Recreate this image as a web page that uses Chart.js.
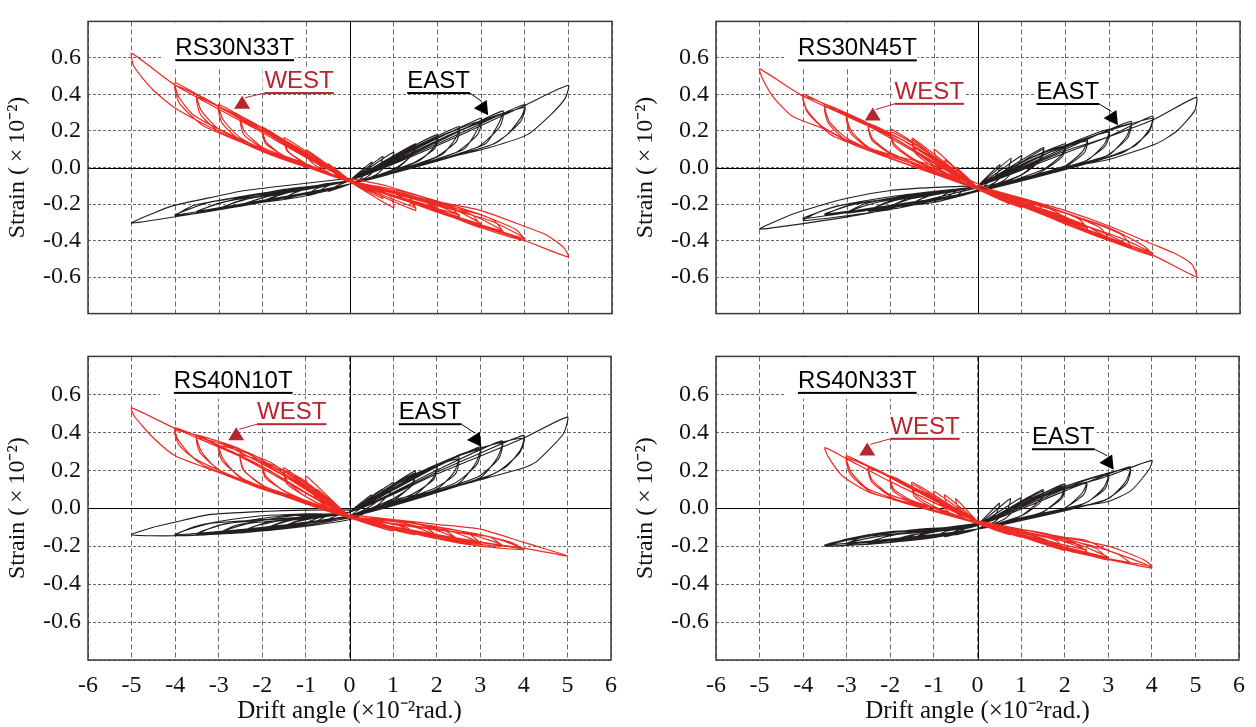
<!DOCTYPE html>
<html>
<head>
<meta charset="utf-8">
<script src="https://cdn.jsdelivr.net/npm/chart.js@4.4.1/dist/chart.umd.min.js"></script>
<style>
  body { margin: 0; background: #fff; width: 1256px; height: 727px; position: relative; overflow: hidden; }
  canvas { position: absolute; }
</style>
</head>
<body>
<canvas id="c1" width="628" height="335" style="left:0;top:0"></canvas>
<canvas id="c2" width="628" height="335" style="left:628px;top:0"></canvas>
<canvas id="c3" width="628" height="392" style="left:0;top:335px"></canvas>
<canvas id="c4" width="628" height="392" style="left:628px;top:335px"></canvas>
<script>
// tick positions
const driftTicks = [-6, -5, -4, -3, -2, -1, 0, 1, 2, 3, 4, 5, 6];
const strainTicks = [-0.8, -0.6, -0.4, -0.2, 0, 0.2, 0.4, 0.6, 0.8];

// [drift angle, strain], one continuous path per gauge
const rs30n33tEast = [
  [0,-0.07],[0.5,0.03],[0.45,0.0],[0.25,-0.06],[0,-0.09],[-0.5,-0.13],[-0.3,-0.1],[0,-0.07],
  [0.75,0.06],[0.7,0.02],[0.4,-0.05],[0,-0.09],[-0.75,-0.14],[-0.5,-0.1],[0,-0.07],
  [1.0,0.085],[0.93,0.04],[0.6,-0.04],[0,-0.09],[-1,-0.15],[-0.7,-0.11],[0,-0.07],
  [1.5,0.13],[1.42,0.07],[1.1,0.0],[0.5,-0.06],[0,-0.09],[-1.5,-0.17],[-1.2,-0.13],[-0.6,-0.09],[0,-0.07],
  [1.0,0.05],[1.5,0.12],[1.44,0.07],[1.0,-0.01],[0,-0.09],[-1.5,-0.165],[-1.1,-0.125],[0,-0.07],
  [1.0,0.06],[2.0,0.18],[1.92,0.11],[1.6,0.04],[0.8,-0.04],[0,-0.09],[-1.0,-0.155],[-2,-0.19],[-1.6,-0.15],[-0.8,-0.1],[0,-0.07],
  [1.2,0.08],[2.0,0.165],[1.93,0.1],[1.4,0.02],[0,-0.09],[-2,-0.185],[-1.5,-0.14],[0,-0.07],
  [1.2,0.08],[2.5,0.225],[2.42,0.16],[2.1,0.07],[1.0,-0.03],[0,-0.09],[-2.5,-0.21],[-2.0,-0.165],[-1.0,-0.11],[0,-0.07],
  [1.5,0.11],[2.5,0.21],[2.43,0.14],[1.9,0.05],[0,-0.09],[-2.5,-0.205],[-1.9,-0.16],[0,-0.07],
  [1.5,0.1],[3.0,0.27],[2.9,0.2],[2.6,0.1],[1.5,0.01],[0,-0.09],[-3,-0.23],[-2.5,-0.18],[-1.2,-0.115],[0,-0.07],
  [1.8,0.14],[3.0,0.255],[2.92,0.18],[2.4,0.08],[0,-0.09],[-3,-0.225],[-2.3,-0.17],[0,-0.07],
  [2.0,0.14],[3.5,0.31],[3.4,0.24],[3.1,0.13],[2,0.04],[0,-0.09],[-3.5,-0.245],[-3,-0.195],[-1.5,-0.12],[0,-0.07],
  [2.2,0.17],[3.5,0.295],[3.42,0.22],[2.9,0.11],[0,-0.09],[-3.5,-0.24],[-2.8,-0.185],[0,-0.07],
  [2,0.13],[3,0.24],[4.0,0.345],[3.93,0.28],[3.6,0.18],[3.2,0.12],[2,0.04],[1,-0.03],[0,-0.09],[-2,-0.19],[-4,-0.265],[-3.6,-0.21],[-3,-0.18],[-2,-0.14],[-1,-0.11],[0,-0.07],
  [2.5,0.2],[4.0,0.33],[3.9,0.25],[3.3,0.13],[0,-0.09],[-4,-0.26],[-3.2,-0.19],[0,-0.07],
  [2,0.12],[4,0.34],[5.0,0.45],[4.93,0.38],[4.6,0.29],[4.06,0.18],[3.2,0.11],[2,0.04],[1,-0.03],[0,-0.09],[-2.5,-0.21],[-5,-0.305],[-4.5,-0.25],[-4.06,-0.21],[-3.2,-0.165],[-2.5,-0.13],[-1.5,-0.1],[-0.6,-0.075],[0,-0.06]
];
const rs30n33tWest = [
  [0,-0.07],[-0.5,0.02],[-0.45,-0.01],[-0.25,-0.05],[0,-0.08],[0.5,-0.13],[0.4,-0.1],[0,-0.07],
  [-0.75,0.05],[-0.7,0.01],[-0.4,-0.04],[0,-0.08],[0.75,-0.17],[0.6,-0.12],[0,-0.07],
  [-1,0.095],[-0.93,0.04],[-0.6,-0.02],[0,-0.08],[1,-0.22],[0.9,-0.15],[0.5,-0.11],[0,-0.07],
  [-1.5,0.163],[-1.42,0.09],[-1.0,0.02],[-0.5,-0.03],[0,-0.08],[1.5,-0.235],[1.38,-0.17],[0.8,-0.12],[0,-0.07],
  [-1.0,0.07],[-1.5,0.15],[-1.44,0.09],[-1.0,0.02],[0,-0.08],[1.5,-0.22],[1.1,-0.15],[0,-0.07],
  [-1,0.07],[-2,0.22],[-1.92,0.14],[-1.5,0.06],[-0.8,0.0],[0,-0.08],[1,-0.16],[2,-0.23],[1.85,-0.19],[1.2,-0.14],[0,-0.07],
  [-1.2,0.11],[-2,0.205],[-1.93,0.13],[-1.4,0.05],[0,-0.08],[2,-0.22],[1.5,-0.17],[0,-0.07],
  [-1.2,0.1],[-2.5,0.28],[-2.42,0.2],[-2,0.11],[-1,0.02],[0,-0.08],[1.2,-0.17],[2.5,-0.27],[2.3,-0.22],[1.5,-0.16],[0,-0.07],
  [-1.5,0.15],[-2.5,0.265],[-2.43,0.18],[-1.9,0.09],[0,-0.08],[2.5,-0.26],[1.9,-0.2],[0,-0.07],
  [-1.5,0.14],[-3,0.345],[-2.9,0.26],[-2.5,0.16],[-1.5,0.05],[0,-0.08],[1.5,-0.19],[3,-0.33],[2.8,-0.26],[2,-0.19],[0,-0.07],
  [-1.8,0.19],[-3,0.33],[-2.92,0.24],[-2.4,0.13],[0,-0.08],[3,-0.31],[2.3,-0.22],[0,-0.07],
  [-2,0.19],[-3.5,0.40],[-3.4,0.31],[-3,0.21],[-2,0.09],[-1,0.01],[0,-0.08],[2,-0.23],[3.5,-0.36],[3.3,-0.29],[2.5,-0.22],[1,-0.12],[0,-0.07],
  [-2.2,0.23],[-3.5,0.385],[-3.42,0.29],[-2.9,0.18],[0,-0.08],[3.5,-0.35],[2.8,-0.26],[0,-0.07],
  [-2,0.2],[-3,0.33],[-4,0.464],[-3.93,0.39],[-3.6,0.29],[-3,0.21],[-2,0.1],[-1,0.015],[0,-0.075],[2,-0.24],[3,-0.33],[4,-0.40],[3.8,-0.34],[3,-0.26],[2,-0.2],[1,-0.13],[0,-0.07],
  [-2.5,0.27],[-4,0.45],[-3.9,0.35],[-3.3,0.22],[0,-0.08],[4,-0.39],[3.2,-0.29],[0,-0.07],
  [-2,0.19],[-4,0.45],[-5,0.625],[-4.94,0.55],[-4.52,0.427],[-4,0.325],[-3,0.197],[-2,0.087],[-1,0.002],[0,-0.066],[2,-0.245],[4,-0.40],[5,-0.49],[4.9,-0.44],[4.5,-0.37],[3.97,-0.32],[3,-0.236],[2,-0.185],[0.83,-0.1],[0,-0.06]
];
const rs30n45tEast = [
  [0,-0.1],[0.5,0.015],[0.45,-0.03],[0.2,-0.09],[0,-0.12],[-0.5,-0.16],[-0.3,-0.12],[0,-0.1],
  [0.75,0.05],[0.7,0.0],[0.4,-0.08],[0,-0.12],[-0.75,-0.175],[-0.5,-0.13],[0,-0.1],
  [1,0.066],[0.93,0.02],[0.6,-0.07],[0,-0.125],[-1,-0.19],[-0.7,-0.14],[0,-0.1],
  [1.5,0.109],[1.42,0.05],[1.0,-0.04],[0.4,-0.1],[0,-0.125],[-1.5,-0.2],[-1.2,-0.16],[-0.5,-0.12],[0,-0.1],
  [1.0,0.03],[1.5,0.1],[1.44,0.04],[1.0,-0.04],[0,-0.125],[-1.5,-0.195],[-1.1,-0.155],[0,-0.1],
  [1,0.03],[2,0.13],[1.92,0.07],[1.5,-0.01],[0.7,-0.08],[0,-0.13],[-1,-0.19],[-2,-0.215],[-1.6,-0.17],[-0.8,-0.13],[0,-0.1],
  [1.2,0.05],[2,0.12],[1.93,0.06],[1.4,-0.03],[0,-0.13],[-2,-0.21],[-1.5,-0.17],[0,-0.1],
  [1.2,0.04],[2.5,0.155],[2.4,0.09],[2,0.01],[1,-0.06],[0,-0.13],[-2.5,-0.24],[-2.1,-0.19],[-1,-0.14],[0,-0.1],
  [1.5,0.07],[2.5,0.145],[2.43,0.08],[1.9,-0.01],[0,-0.13],[-2.5,-0.235],[-1.9,-0.18],[0,-0.1],
  [1.5,0.07],[3,0.209],[2.9,0.13],[2.5,0.04],[1.5,-0.03],[0,-0.13],[-3,-0.25],[-2.6,-0.2],[-1.3,-0.14],[0,-0.1],
  [1.8,0.1],[3,0.195],[2.92,0.12],[2.4,0.03],[0,-0.13],[-3,-0.245],[-2.3,-0.19],[0,-0.1],
  [2,0.1],[3.5,0.253],[3.4,0.17],[3,0.07],[2,0.0],[0,-0.13],[-3.5,-0.26],[-3,-0.21],[-1.5,-0.15],[0,-0.1],
  [2.2,0.13],[3.5,0.24],[3.42,0.16],[2.9,0.06],[0,-0.13],[-3.5,-0.255],[-2.8,-0.2],[0,-0.1],
  [2,0.09],[3,0.17],[4,0.282],[3.93,0.21],[3.6,0.12],[3,0.06],[2,0.0],[1,-0.06],[0,-0.13],[-2,-0.23],[-4,-0.29],[-3.6,-0.24],[-3,-0.2],[-2,-0.16],[-1,-0.13],[0,-0.1],
  [2.5,0.16],[4,0.27],[3.9,0.19],[3.3,0.08],[0,-0.13],[-4,-0.28],[-3.2,-0.21],[0,-0.1],
  [2,0.08],[4,0.26],[5,0.384],[4.96,0.31],[4.54,0.197],[4.08,0.13],[3,0.044],[2,0.0],[1,-0.06],[0,-0.11],[-2.5,-0.25],[-5,-0.338],[-4.5,-0.28],[-4,-0.236],[-3,-0.168],[-2,-0.126],[-1,-0.109],[0,-0.1]
];
const rs30n45tWest = [
  [0,-0.11],[-0.5,0.0],[-0.45,-0.04],[-0.2,-0.09],[0,-0.12],[0.5,-0.17],[0.35,-0.14],[0,-0.11],
  [-0.75,0.04],[-0.7,0.0],[-0.4,-0.07],[0,-0.12],[0.75,-0.2],[0.6,-0.16],[0,-0.11],
  [-1,0.1],[-0.93,0.04],[-0.6,-0.04],[0,-0.12],[1,-0.22],[0.9,-0.18],[0.5,-0.14],[0,-0.11],
  [-1.5,0.16],[-1.42,0.09],[-1,0.01],[-0.5,-0.06],[0,-0.12],[1.5,-0.25],[1.4,-0.21],[0.8,-0.16],[0,-0.11],
  [-1,0.06],[-1.5,0.15],[-1.44,0.08],[-1,0.0],[0,-0.12],[1.5,-0.24],[1.1,-0.19],[0,-0.11],
  [-1,0.06],[-2,0.21],[-1.92,0.13],[-1.5,0.05],[-0.8,-0.03],[0,-0.12],[1,-0.21],[2,-0.3],[1.85,-0.25],[1.2,-0.19],[0,-0.11],
  [-1.2,0.09],[-2,0.195],[-1.93,0.12],[-1.4,0.03],[0,-0.12],[2,-0.29],[1.5,-0.23],[0,-0.11],
  [-1.2,0.08],[-2.5,0.24],[-2.42,0.16],[-2,0.08],[-1,-0.02],[0,-0.12],[1.2,-0.23],[2.5,-0.34],[2.3,-0.28],[1.5,-0.21],[0,-0.11],
  [-1.5,0.12],[-2.5,0.23],[-2.43,0.15],[-1.9,0.06],[0,-0.12],[2.5,-0.33],[1.9,-0.26],[0,-0.11],
  [-1.5,0.12],[-3,0.29],[-2.9,0.2],[-2.5,0.11],[-1.5,0.02],[0,-0.12],[1.5,-0.26],[3,-0.40],[2.8,-0.33],[2,-0.25],[0,-0.11],
  [-1.8,0.16],[-3,0.28],[-2.92,0.19],[-2.4,0.09],[0,-0.12],[3,-0.39],[2.3,-0.3],[0,-0.11],
  [-2,0.16],[-3.5,0.345],[-3.4,0.25],[-3,0.16],[-2,0.05],[-1,-0.03],[0,-0.12],[2,-0.3],[3.5,-0.44],[3.3,-0.37],[2.5,-0.29],[1,-0.17],[0,-0.11],
  [-2.2,0.2],[-3.5,0.33],[-3.42,0.24],[-2.9,0.13],[0,-0.12],[3.5,-0.43],[2.8,-0.35],[0,-0.11],
  [-2,0.17],[-3,0.28],[-4,0.40],[-3.93,0.32],[-3.6,0.23],[-3,0.15],[-2,0.06],[-1,-0.02],[0,-0.115],[2,-0.3],[3,-0.4],[4,-0.483],[3.8,-0.43],[3,-0.33],[2,-0.25],[1,-0.17],[0,-0.11],
  [-2.5,0.24],[-4,0.39],[-3.9,0.3],[-3.3,0.17],[0,-0.12],[4,-0.47],[3.2,-0.38],[0,-0.11],
  [-2,0.17],[-4,0.39],[-5,0.54],[-4.95,0.494],[-4.7,0.39],[-4.26,0.282],[-3.47,0.206],[-3,0.146],[-2,0.07],[-1,0.01],[0,-0.09],[2,-0.31],[4,-0.48],[5,-0.598],[4.9,-0.53],[4.5,-0.47],[4,-0.42],[3,-0.32],[2,-0.236],[1,-0.168],[0,-0.1]
];
const rs40n10tEast = [
  [0,-0.02],[0.5,0.07],[0.45,0.03],[0.2,-0.01],[0,-0.04],[-0.5,-0.06],[-0.3,-0.04],[0,-0.02],
  [0.75,0.1],[0.7,0.05],[0.4,0.0],[0,-0.04],[-0.75,-0.07],[-0.5,-0.04],[0,-0.02],
  [1,0.136],[0.93,0.08],[0.6,0.01],[0,-0.04],[-1,-0.08],[-0.7,-0.05],[0,-0.02],
  [1.5,0.196],[1.42,0.12],[1,0.04],[0.4,-0.01],[0,-0.04],[-1.5,-0.1],[-1.2,-0.07],[-0.5,-0.04],[0,-0.02],
  [1,0.12],[1.5,0.185],[1.44,0.12],[1,0.05],[0,-0.04],[-1.5,-0.095],[-1.1,-0.06],[0,-0.02],
  [1,0.1],[2,0.23],[1.92,0.16],[1.5,0.07],[0.7,0.01],[0,-0.04],[-1,-0.09],[-2,-0.12],[-1.6,-0.08],[-0.8,-0.04],[0,-0.02],
  [1.2,0.14],[2,0.22],[1.93,0.15],[1.4,0.07],[0,-0.04],[-2,-0.115],[-1.5,-0.07],[0,-0.02],
  [1.2,0.12],[2.5,0.273],[2.4,0.19],[2,0.1],[1,0.03],[0,-0.04],[-2.5,-0.13],[-2.1,-0.09],[-1,-0.04],[0,-0.02],
  [1.5,0.18],[2.5,0.26],[2.43,0.18],[1.9,0.1],[0,-0.04],[-2.5,-0.125],[-1.9,-0.075],[0,-0.02],
  [1.5,0.16],[3,0.324],[2.9,0.24],[2.5,0.13],[1.5,0.05],[0,-0.04],[-3,-0.136],[-2.6,-0.09],[-1.3,-0.04],[0,-0.02],
  [1.8,0.21],[3,0.31],[2.92,0.23],[2.4,0.13],[0,-0.04],[-3,-0.13],[-2.3,-0.08],[0,-0.02],
  [2,0.2],[3.5,0.355],[3.4,0.27],[3,0.16],[2,0.09],[0,-0.04],[-3.5,-0.14],[-3,-0.09],[-1.5,-0.04],[0,-0.02],
  [2.2,0.25],[3.5,0.345],[3.42,0.26],[2.9,0.16],[0,-0.04],[-3.5,-0.135],[-2.8,-0.08],[0,-0.02],
  [2,0.19],[3,0.29],[4,0.384],[3.93,0.31],[3.6,0.22],[3,0.15],[2,0.09],[1,0.03],[0,-0.05],[-2,-0.12],[-4,-0.145],[-3.6,-0.1],[-3,-0.07],[-2,-0.04],[-1,-0.03],[0,-0.02],
  [2.5,0.28],[4,0.37],[3.9,0.29],[3.3,0.18],[0,-0.045],[-4,-0.14],[-3.2,-0.08],[0,-0.02],
  [2,0.18],[4,0.37],[5,0.48],[4.9,0.39],[4.3,0.247],[4,0.213],[3.05,0.153],[2.03,0.094],[1.01,0.043],[0,-0.06],[-2,-0.12],[-4,-0.145],[-5,-0.14],[-4.5,-0.1],[-4.06,-0.077],[-3.23,-0.034],[-2,-0.017],[-1,-0.01],[0,-0.01]
];
const rs40n10tWest = [
  [0,-0.04],[-0.5,0.05],[-0.45,0.02],[-0.2,-0.02],[0,-0.05],[0.5,-0.08],[0.3,-0.06],[0,-0.04],
  [-0.75,0.1],[-0.7,0.05],[-0.4,0.0],[0,-0.05],[0.75,-0.1],[0.55,-0.07],[0,-0.04],
  [-1,0.17],[-0.93,0.1],[-0.6,0.02],[0,-0.05],[1,-0.12],[0.85,-0.09],[0.4,-0.06],[0,-0.04],
  [-1.5,0.213],[-1.42,0.14],[-1,0.06],[-0.5,0.0],[0,-0.05],[1.5,-0.14],[1.3,-0.1],[0.7,-0.07],[0,-0.04],
  [-1,0.14],[-1.5,0.2],[-1.44,0.13],[-1,0.06],[0,-0.05],[1.5,-0.135],[1.1,-0.09],[0,-0.04],
  [-1,0.11],[-2,0.247],[-1.92,0.17],[-1.5,0.09],[-0.8,0.02],[0,-0.05],[1,-0.1],[2,-0.15],[1.8,-0.11],[1,-0.07],[0,-0.04],
  [-1.2,0.16],[-2,0.235],[-1.93,0.16],[-1.4,0.08],[0,-0.05],[2,-0.145],[1.5,-0.1],[0,-0.04],
  [-1.2,0.13],[-2.5,0.29],[-2.42,0.2],[-2,0.12],[-1,0.04],[0,-0.05],[1.2,-0.11],[2.5,-0.17],[2.2,-0.12],[1.2,-0.07],[0,-0.04],
  [-1.5,0.2],[-2.5,0.28],[-2.43,0.2],[-1.9,0.11],[0,-0.05],[2.5,-0.165],[1.9,-0.11],[0,-0.04],
  [-1.5,0.17],[-3,0.344],[-2.9,0.26],[-2.5,0.16],[-1.5,0.07],[0,-0.05],[1.5,-0.13],[3,-0.188],[2.7,-0.13],[1.5,-0.08],[0,-0.04],
  [-1.8,0.24],[-3,0.33],[-2.92,0.25],[-2.4,0.15],[0,-0.05],[3,-0.185],[2.3,-0.12],[0,-0.04],
  [-2,0.21],[-3.5,0.384],[-3.4,0.3],[-3,0.2],[-2,0.1],[-1,0.03],[0,-0.05],[2,-0.16],[3.5,-0.2],[3.2,-0.15],[2,-0.1],[1,-0.06],[0,-0.04],
  [-2.2,0.28],[-3.5,0.37],[-3.42,0.29],[-2.9,0.19],[0,-0.05],[3.5,-0.195],[2.8,-0.14],[0,-0.04],
  [-2,0.22],[-3,0.33],[-4,0.423],[-3.93,0.36],[-3.6,0.27],[-3,0.2],[-2,0.11],[-1,0.04],[0,-0.045],[2,-0.16],[3,-0.2],[4,-0.218],[3.7,-0.18],[3,-0.14],[2,-0.1],[1,-0.06],[0,-0.04],
  [-2.5,0.31],[-4,0.41],[-3.9,0.33],[-3.3,0.22],[0,-0.05],[4,-0.215],[3.2,-0.15],[0,-0.04],
  [-2,0.22],[-4,0.42],[-5,0.529],[-4.94,0.486],[-4.52,0.375],[-4,0.276],[-3,0.188],[-2,0.102],[-1,0.034],[0,-0.043],[2,-0.15],[4,-0.21],[5,-0.252],[4.5,-0.215],[4,-0.18],[3,-0.11],[2,-0.085],[1,-0.06],[0,-0.035]
];
const rs40n33tEast = [
  [0,-0.09],[0.5,0.026],[0.45,-0.02],[0.2,-0.08],[0,-0.11],[-0.5,-0.14],[-0.3,-0.11],[0,-0.09],
  [0.75,0.05],[0.7,0.0],[0.4,-0.07],[0,-0.11],[-0.75,-0.15],[-0.5,-0.12],[0,-0.09],
  [1,0.055],[0.93,0.01],[0.6,-0.06],[0,-0.11],[-1,-0.153],[-0.7,-0.12],[0,-0.09],
  [1.5,0.099],[1.42,0.04],[1,-0.04],[0.4,-0.09],[0,-0.11],[-1.5,-0.165],[-1.2,-0.13],[-0.5,-0.1],[0,-0.09],
  [1,0.03],[1.5,0.09],[1.44,0.03],[1,-0.04],[0,-0.11],[-1.5,-0.16],[-1.1,-0.13],[0,-0.09],
  [1,0.02],[2,0.128],[1.92,0.06],[1.5,-0.02],[0.7,-0.07],[0,-0.11],[-1,-0.155],[-2,-0.18],[-1.6,-0.15],[-0.8,-0.11],[0,-0.09],
  [1.2,0.05],[2,0.118],[1.93,0.05],[1.4,-0.03],[0,-0.11],[-2,-0.175],[-1.5,-0.14],[0,-0.09],
  [1.2,0.04],[2.5,0.136],[2.4,0.08],[2,0.0],[1,-0.06],[0,-0.11],[-2.5,-0.185],[-2.1,-0.15],[-1,-0.11],[0,-0.09],
  [1.5,0.07],[2.5,0.13],[2.43,0.07],[1.9,-0.01],[0,-0.11],[-2.5,-0.18],[-1.9,-0.14],[0,-0.09],
  [1.5,0.06],[3,0.184],[2.9,0.11],[2.5,0.03],[1.5,-0.03],[0,-0.11],[-3,-0.19],[-2.6,-0.15],[-1.3,-0.11],[0,-0.085],
  [1.8,0.1],[3,0.175],[2.92,0.1],[2.4,0.02],[0,-0.11],[-3,-0.185],[-2.3,-0.15],[0,-0.09],
  [2,0.09],[3.5,0.218],[3.4,0.14],[3,0.05],[2,-0.01],[0,-0.11],[-2,-0.18],[-3.5,-0.2],[-3,-0.162],[-2,-0.123],[-1,-0.11],[0,-0.077],
  [2.2,0.13],[3.5,0.21],[3.42,0.13],[2.9,0.04],[0,-0.11],[-3.5,-0.195],[-2.8,-0.155],[0,-0.085],
  [2,0.1],[3,0.17],[4,0.252],[3.94,0.205],[3.53,0.094],[2.98,0.034],[2.06,0.0],[1,-0.05],[0,-0.11],[-2,-0.18],[-3.5,-0.2],[-3,-0.17],[-2,-0.13],[-1,-0.11],[0,-0.08]
];
const rs40n33tWest = [
  [0,-0.07],[-0.5,0.05],[-0.45,0.01],[-0.2,-0.05],[0,-0.08],[0.5,-0.12],[0.3,-0.1],[0,-0.07],
  [-0.75,0.07],[-0.7,0.02],[-0.4,-0.04],[0,-0.08],[0.75,-0.14],[0.55,-0.11],[0,-0.07],
  [-1,0.089],[-0.93,0.04],[-0.6,-0.03],[0,-0.08],[1,-0.153],[0.85,-0.12],[0.4,-0.09],[0,-0.07],
  [-1.5,0.136],[-1.42,0.07],[-1,0.01],[-0.5,-0.04],[0,-0.08],[1.5,-0.18],[1.3,-0.14],[0.7,-0.1],[0,-0.07],
  [-1,0.06],[-1.5,0.125],[-1.44,0.06],[-1,0.0],[0,-0.08],[1.5,-0.17],[1.1,-0.13],[0,-0.07],
  [-1,0.05],[-2,0.17],[-1.92,0.1],[-1.5,0.04],[-0.8,-0.01],[0,-0.08],[1,-0.15],[2,-0.222],[1.8,-0.17],[1,-0.12],[0,-0.07],
  [-1.2,0.08],[-2,0.16],[-1.93,0.09],[-1.4,0.02],[0,-0.08],[2,-0.21],[1.5,-0.16],[0,-0.07],
  [-1.2,0.07],[-2.5,0.222],[-2.42,0.15],[-2,0.07],[-1,0.0],[0,-0.08],[1.2,-0.16],[2.5,-0.23],[2.2,-0.18],[1.2,-0.12],[0,-0.07],
  [-1.5,0.11],[-2.5,0.21],[-2.43,0.14],[-1.9,0.05],[0,-0.08],[2.5,-0.22],[1.9,-0.17],[0,-0.07],
  [-1.5,0.1],[-3,0.276],[-2.9,0.19],[-2.5,0.1],[-1.5,0.02],[0,-0.08],[1.5,-0.18],[3,-0.273],[2.7,-0.21],[1.5,-0.13],[0,-0.07],
  [-1.8,0.14],[-3,0.265],[-2.92,0.18],[-2.4,0.08],[0,-0.08],[3,-0.26],[2.3,-0.19],[0,-0.07],
  [-2,0.14],[-3,0.26],[-3.5,0.319],[-3.43,0.273],[-3.1,0.17],[-2.5,0.085],[-2,0.051],[-1,0.0],[0,-0.077],[2,-0.21],[3.5,-0.29],[3.2,-0.24],[2.5,-0.19],[1,-0.12],[0,-0.07],
  [2,-0.22],[3,-0.27],[4,-0.315],[3.8,-0.29],[3,-0.222],[2.5,-0.17],[2,-0.153],[1,-0.111],[0,-0.068],
  [2.5,-0.24],[4,-0.305],[3.8,-0.27],[3,-0.2],[0,-0.07]
];

const RED = '#ee2a24';
const DARKRED = '#b8252c';
const BLACK = '#231f20';
const serif = '"Liberation Serif", "Times New Roman", serif';
const sans = '"Liberation Sans", Arial, sans-serif';

// label anchors in data units
const panels = [
  { id: 'c1', name: 'RS30N33T', east: rs30n33tEast, west: rs30n33tWest, bottom: false,
    title: [-4.0, 0.615], westAt: [-1.96, 0.435], westTri: [-2.47, 0.355], eastAt: [1.31, 0.435], eastTri: [3.06, 0.335] },
  { id: 'c2', name: 'RS30N45T', east: rs30n45tEast, west: rs30n45tWest, bottom: false,
    title: [-4.12, 0.614], westAt: [-1.91, 0.376], westTri: [-2.41, 0.29], eastAt: [1.34, 0.375], eastTri: [3.1, 0.28] },
  { id: 'c3', name: 'RS40N10T', east: rs40n10tEast, west: rs40n10tWest, bottom: true,
    title: [-4.03, 0.634], westAt: [-2.12, 0.469], westTri: [-2.6, 0.39], eastAt: [1.13, 0.469], eastTri: [2.92, 0.37] },
  { id: 'c4', name: 'RS40N33T', east: rs40n33tEast, west: rs40n33tWest, bottom: true,
    title: [-4.12, 0.634], westAt: [-2.0, 0.392], westTri: [-2.53, 0.31], eastAt: [1.25, 0.337], eastTri: [3.02, 0.25] }
];

function tri(ctx, cx, cy, rot, color) {
  ctx.save();
  ctx.translate(cx, cy);
  ctx.rotate(rot);
  ctx.beginPath();
  ctx.moveTo(0, -7);
  ctx.lineTo(8, 6);
  ctx.lineTo(-8, 6);
  ctx.closePath();
  ctx.fillStyle = color;
  ctx.fill();
  ctx.restore();
}

const panelDeco = {
  id: 'panelDeco',
  beforeDatasetsDraw(chart, args, opts) {
    const { ctx, chartArea: a, scales: { x, y } } = chart;
    const p = opts.panel;
    ctx.save();
    // solid zero lines
    ctx.strokeStyle = '#000';
    ctx.lineWidth = 1;
    const x0 = Math.round(x.getPixelForValue(0)) + 0.5;
    const y0 = Math.round(y.getPixelForValue(0)) + 0.5;
    ctx.beginPath();
    ctx.moveTo(x0, a.top); ctx.lineTo(x0, a.bottom);
    ctx.moveTo(a.left, y0); ctx.lineTo(a.right, y0);
    ctx.stroke();
    // white boxes behind the labels
    ctx.font = '24px ' + sans;
    ctx.fillStyle = '#fff';
    const tx = x.getPixelForValue(p.title[0]), ty = y.getPixelForValue(p.title[1]);
    const tw = ctx.measureText(p.name).width;
    ctx.fillRect(tx - 14, a.top + 1, tw + 15, ty + 10 - a.top);
    const wx = x.getPixelForValue(p.westAt[0]), wy = y.getPixelForValue(p.westAt[1]);
    ctx.fillRect(wx - 2, wy - 20, ctx.measureText('WEST').width + 4, 25);
    const ex = x.getPixelForValue(p.eastAt[0]), ey = y.getPixelForValue(p.eastAt[1]);
    ctx.fillRect(ex - 2, ey - 20, ctx.measureText('EAST').width + 4, 25);
    // frame
    ctx.strokeStyle = '#3a3a3a';
    ctx.lineWidth = 1.5;
    ctx.strokeRect(a.left, a.top, a.right - a.left, a.bottom - a.top);
    ctx.restore();
  },
  afterDatasetsDraw(chart, args, opts) {
    const { ctx, scales: { x, y } } = chart;
    const p = opts.panel;
    ctx.save();
    ctx.font = '24px ' + sans;
    ctx.textBaseline = 'alphabetic';
    // specimen name
    const tx = x.getPixelForValue(p.title[0]), ty = y.getPixelForValue(p.title[1]);
    const tw = ctx.measureText(p.name).width;
    ctx.fillStyle = '#000';
    ctx.fillText(p.name, tx, ty);
    ctx.fillRect(tx, ty + 4, tw, 2);
    // WEST
    const wx = x.getPixelForValue(p.westAt[0]), wy = y.getPixelForValue(p.westAt[1]);
    const ww = ctx.measureText('WEST').width;
    ctx.fillStyle = DARKRED;
    ctx.fillText('WEST', wx, wy);
    ctx.fillRect(wx, wy + 4, ww, 2);
    const wtx = x.getPixelForValue(p.westTri[0]), wty = y.getPixelForValue(p.westTri[1]);
    ctx.strokeStyle = DARKRED;
    ctx.lineWidth = 1;
    ctx.beginPath();
    ctx.moveTo(wx, wy + 5);
    ctx.lineTo(wtx + 3, wty - 5);
    ctx.stroke();
    tri(ctx, wtx, wty, 0, DARKRED);
    // EAST
    const ex = x.getPixelForValue(p.eastAt[0]), ey = y.getPixelForValue(p.eastAt[1]);
    const ew = ctx.measureText('EAST').width;
    ctx.fillStyle = '#000';
    ctx.fillText('EAST', ex, ey);
    ctx.fillRect(ex, ey + 4, ew, 2);
    const etx = x.getPixelForValue(p.eastTri[0]), ety = y.getPixelForValue(p.eastTri[1]);
    ctx.strokeStyle = '#000';
    ctx.beginPath();
    ctx.moveTo(ex + ew, ey + 5);
    ctx.lineTo(etx - 2, ety - 5);
    ctx.stroke();
    tri(ctx, etx, ety, 0.45, '#000');
    ctx.restore();
  }
};

const toPts = arr => arr.map(([x, y]) => ({ x, y }));

panels.forEach(p => {
  new Chart(document.getElementById(p.id), {
    type: 'scatter',
    data: {
      datasets: [
        { label: 'WEST', data: toPts(p.west), showLine: true, borderColor: RED, borderWidth: 1.2, pointRadius: 0, tension: 0.2 },
        { label: 'EAST', data: toPts(p.east), showLine: true, borderColor: BLACK, borderWidth: 1.1, pointRadius: 0, tension: 0.2 }
      ]
    },
    options: {
      responsive: false,
      animation: false,
      layout: { padding: { top: p.bottom ? 12.5 : 10, right: 16, left: 0, bottom: 0 } },
      plugins: {
        legend: { display: false },
        tooltip: { enabled: false },
        panelDeco: { panel: p }
      },
      scales: {
        x: {
          type: 'linear', min: -6, max: 6,
          afterBuildTicks: s => { s.ticks = driftTicks.map(v => ({ value: v })); },
          afterFit: s => { s.height = p.bottom ? 67 : 12; },
          grid: { color: '#6a6a6a', lineWidth: 1, drawTicks: false },
          border: { display: false, dash: [5, 3] },
          ticks: {
            display: p.bottom, padding: 11, color: '#111',
            font: { family: serif, size: 24 },
            callback: v => String(v)
          },
          title: {
            display: p.bottom, text: 'Drift angle (\u00d710\u207b\u00b2rad.)', color: '#111',
            font: { family: serif, size: 25 }, padding: { top: 0, bottom: 1 }
          }
        },
        y: {
          type: 'linear', min: -0.8, max: 0.8,
          afterBuildTicks: s => { s.ticks = strainTicks.map(v => ({ value: v })); },
          afterFit: s => { s.width = 88; },
          grid: { color: '#6a6a6a', lineWidth: 1, drawTicks: false },
          border: { display: false, dash: [3, 2] },
          ticks: {
            padding: 7, color: '#111',
            font: { family: serif, size: 24 },
            callback: v => Math.abs(v) > 0.7 ? '' : v.toFixed(1)
          },
          title: {
            display: true, text: 'Strain (\u2009\u00d7\u200910\u207b\u00b2)', color: '#111',
            font: { family: serif, size: 24 }, padding: { top: 3, bottom: 0 }
          }
        }
      }
    },
    plugins: [panelDeco]
  });
});
</script>
</body>
</html>
